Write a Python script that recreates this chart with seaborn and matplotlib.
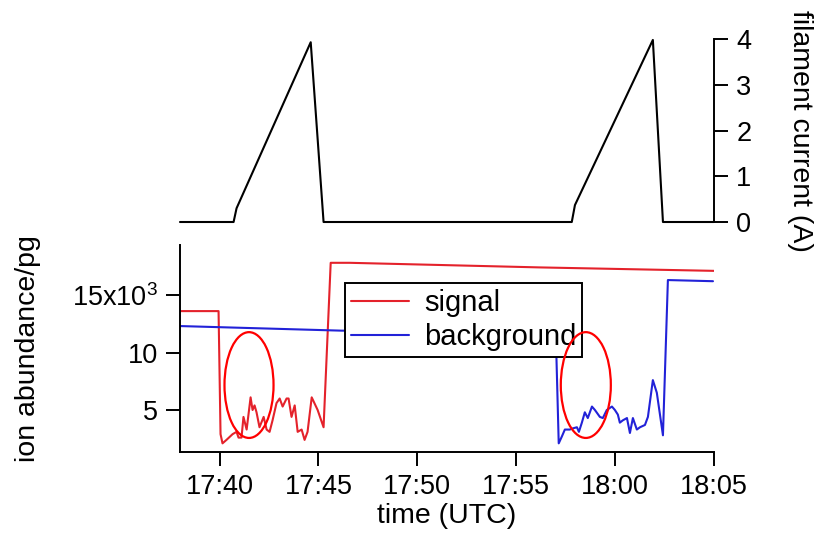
import numpy as np
import pandas as pd
import matplotlib
matplotlib.use("Agg")
import matplotlib.pyplot as plt
from matplotlib.patches import Ellipse
import seaborn as sns

# time is minutes after 17:00 UTC, ion abundance in units of 10^3
sig_time = [38.0, 39.95, 40.05, 40.15, 40.35, 40.66, 40.86, 40.96, 41.11, 41.21,
            41.37, 41.57, 41.67, 41.77, 41.87, 42.02, 42.23, 42.38, 42.53, 42.68,
            42.88, 43.04, 43.19, 43.39, 43.49, 43.64, 43.80, 43.95, 44.15, 44.30,
            44.45, 44.66, 44.96, 45.26, 45.62, 46.58, 56.19, 65.0]
sig_val = [13.6, 13.6, 2.9, 2.1, 2.4, 2.9, 3.1, 2.6, 2.6, 4.4,
           3.3, 6.1, 5.0, 5.4, 4.8, 3.5, 4.4, 3.3, 3.1, 4.1,
           5.6, 6.0, 5.3, 6.0, 6.0, 4.4, 5.4, 3.1, 3.3, 2.4,
           3.1, 6.1, 5.0, 3.5, 17.8, 17.8, 17.4, 17.1]

bg_time = [38.0, 46.17, 57.0, 57.15, 57.31, 57.46, 57.71, 57.86, 58.07, 58.17,
           58.32, 58.47, 58.62, 58.83, 58.98, 59.23, 59.38, 59.58, 59.84, 59.99,
           60.14, 60.24, 60.39, 60.60, 60.75, 60.90, 61.10, 61.26, 61.51, 61.66,
           61.91, 62.11, 62.42, 62.67, 64.95]
bg_val = [12.3, 11.9, 11.8, 2.1, 2.7, 3.3, 3.3, 3.4, 3.5, 3.1,
          3.9, 4.8, 4.3, 5.3, 5.0, 4.4, 4.3, 5.0, 5.3, 5.0,
          4.6, 3.9, 4.1, 4.3, 3.0, 4.3, 3.3, 3.5, 3.7, 4.4,
          7.6, 6.5, 2.8, 16.3, 16.2]

fil_time = [38.0, 40.71, 40.86, 44.61, 45.26, 57.81, 57.97, 61.91, 62.42, 65.0]
fil_current = [0, 0, 0.3, 3.93, 0, 0, 0.37, 3.98, 0, 0]

# highlighted regions (center time, center value, width min, height 10^3)
circles = [(41.49, 7.17, 2.48, 9.2), (58.52, 7.17, 2.53, 9.2)]

time_ticks = [40, 45, 50, 55, 60, 65]
time_labels = ["17:40", "17:45", "17:50", "17:55", "18:00", "18:05"]
ion_ticks = [5, 10, 15]
ion_labels = ["5", "10", "15x10$^3$"]
fil_ticks = [0, 1, 2, 3, 4]

sns.set_theme(style="ticks")
plt.rcParams['font.family'] = ['Liberation Sans', 'DejaVu Sans']
plt.rcParams['mathtext.default'] = 'regular'
plt.rcParams['axes.linewidth'] = 1.4
plt.rcParams['axes.edgecolor'] = 'black'
plt.rcParams['axes.labelcolor'] = 'black'
plt.rcParams['text.color'] = 'black'
plt.rcParams['xtick.major.width'] = 1.4
plt.rcParams['ytick.major.width'] = 1.4
plt.rcParams['xtick.major.size'] = 10
plt.rcParams['ytick.major.size'] = 10
plt.rcParams['xtick.color'] = 'black'
plt.rcParams['ytick.color'] = 'black'

signal = pd.DataFrame({'time': sig_time, 'value': sig_val})
background = pd.DataFrame({'time': bg_time, 'value': bg_val})
filament = pd.DataFrame({'time': fil_time, 'current': fil_current})

fig = plt.figure(figsize=(8.2, 5.42), dpi=100)
ax_top = fig.add_axes([0.2195, 0.5904, 0.6512, 0.3376])
ax = fig.add_axes([0.2195, 0.1661, 0.6512, 0.3819], sharex=ax_top)

# filament current panel
sns.lineplot(data=filament, x='time', y='current', ax=ax_top, color='black',
             lw=1.5, estimator=None, sort=False, clip_on=False)
ax_top.set_ylim(0, 4)
for s in ['left', 'top', 'bottom']:
    ax_top.spines[s].set_visible(False)
ax_top.yaxis.tick_right()
ax_top.yaxis.set_label_position('right')
ax_top.set_yticks(fil_ticks)
ax_top.tick_params(axis='y', labelsize=19.5, pad=6)
ax_top.tick_params(axis='x', bottom=False, labelbottom=False)
ax_top.set_xlabel('')
ax_top.set_ylabel('filament current (A)', fontsize=20.5, rotation=270, labelpad=44)

# ion abundance panel
sns.lineplot(data=signal, x='time', y='value', ax=ax, color='#e4222b',
             lw=1.5, estimator=None, sort=False, label='signal')
sns.lineplot(data=background, x='time', y='value', ax=ax, color='#2222d8',
             lw=1.5, estimator=None, sort=False, label='background')
ax.set_xlim(38.0, 65.0)
ax.set_ylim(1.35, 19.35)
ax.set_xticks(time_ticks)
ax.set_xticklabels(time_labels)
ax.set_yticks(ion_ticks)
ax.set_yticklabels(ion_labels)
ax.tick_params(labelsize=19.5, pad=6)
ax.spines['top'].set_visible(False)
ax.spines['right'].set_visible(False)
ax.set_xlabel('time (UTC)', fontsize=20.5, labelpad=2)
ax.set_ylabel('ion abundance/pg', fontsize=20.5, labelpad=22)

leg = ax.legend(loc='upper left', bbox_to_anchor=(0.309, 0.816), fontsize=21,
                frameon=True, fancybox=False, framealpha=1, edgecolor='black',
                borderpad=0.2, labelspacing=0.2, handlelength=2.0,
                handletextpad=0.5, borderaxespad=0)
leg.get_frame().set_linewidth(1.4)

for cx, cy, w, h in circles:
    ax.add_patch(Ellipse((cx, cy), w, h, fill=False, edgecolor='#ff0000',
                         lw=1.6, zorder=6))

fig.savefig('out.png', dpi=100)
